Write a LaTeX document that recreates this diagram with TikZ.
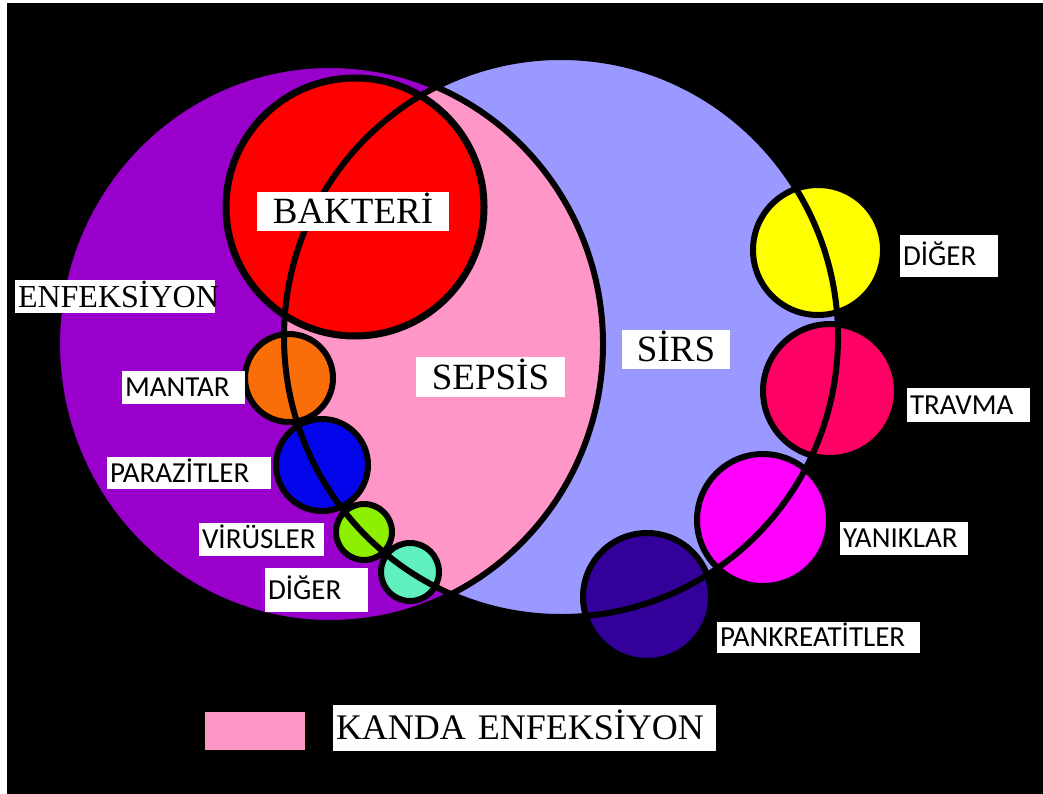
\documentclass[tikz,border=0pt]{standalone}
\usepackage{fontspec}
\setmainfont{Liberation Serif}
\newfontfamily\calibfont{Carlito}
\definecolor{infpurple}{RGB}{153,0,204}
\definecolor{sirsblue}{RGB}{153,153,255}
\definecolor{sepspink}{RGB}{255,150,200}
\definecolor{bactred}{RGB}{255,0,0}
\definecolor{fungorange}{RGB}{250,110,10}
\definecolor{parablue}{RGB}{5,5,235}
\definecolor{virgreen}{RGB}{140,240,0}
\definecolor{othaqua}{RGB}{95,240,190}
\definecolor{othyellow}{RGB}{255,255,0}
\definecolor{traumared}{RGB}{255,0,100}
\definecolor{burnmag}{RGB}{255,0,255}
\definecolor{pankindigo}{RGB}{51,0,153}
\tikzset{
  bubble/.style={circle, draw=black, line width=6pt, inner sep=0pt},
  rim/.style={draw=black, line width=6pt},
  lblbox/.style={fill=white, inner xsep=3pt, inner ysep=0pt, text=black},
  serifbig/.style={font=\fontsize{37}{37}\selectfont, text height=24pt, text depth=0pt},
  serifmid/.style={font=\fontsize{32}{32}\selectfont, text height=21pt, text depth=0pt},
  serifleg/.style={font=\fontsize{36}{36}\selectfont, text height=23.5pt, text depth=0pt},
  sanslbl/.style={font=\calibfont\fontsize{29}{29}\selectfont, text height=18.5pt, text depth=0pt},
}
\begin{document}
\begin{tikzpicture}[x=1pt,y=-1pt]
\useasboundingbox (0,0) rectangle (1043,794);
% frame and background
\fill[white] (0,0) rectangle (1043,794);
\fill[black] (7,3) rectangle (1043,794);
% ellipses
\fill[sirsblue] (561,337) ellipse [x radius=277, y radius=280];
\fill[infpurple] (330,344) ellipse [x radius=273, y radius=279];
\begin{scope}
  \clip (330,344) ellipse [x radius=273, y radius=279];
  \fill[sepspink] (561,337) ellipse [x radius=277, y radius=280];
\end{scope}
% circles (infection side)
\node[bubble, fill=bactred, line width=7pt, minimum size=258pt] (bakteri) at (355,207) {};
\node[bubble, fill=fungorange, minimum size=88pt] (mantar) at (289,378) {};
\node[bubble, fill=parablue, minimum size=92pt] (parazit) at (322,465) {};
\node[bubble, fill=virgreen, minimum size=56pt] (virus) at (364,532) {};
\node[bubble, fill=othaqua, minimum size=58pt] (digerL) at (410,572) {};
% circles (SIRS side)
\node[bubble, fill=othyellow, minimum size=130pt] (digerR) at (818,250) {};
\node[bubble, fill=traumared, minimum size=134pt] (travma) at (830,391) {};
\node[bubble, fill=burnmag, minimum size=132pt] (yanik) at (763,520) {};
\node[bubble, fill=pankindigo, minimum size=128pt] (pankreas) at (647,597) {};
% ellipse rims on top
\draw[rim] (561,337) ellipse [x radius=277, y radius=280];
\draw[rim] (330,344) ellipse [x radius=273, y radius=279];
% legend
\node[fill=sepspink, minimum width=100pt, minimum height=38pt, inner sep=0pt] (legend) at (255,731) {};
% labels (serif)
\node[lblbox, serifmid, text width=194pt, align=left, minimum height=33pt] (lenf) at (115,296.5) {ENFEKSİYON};
\node[lblbox, serifbig, text width=186pt, align=center, minimum height=39pt] (lbak) at (353,211.5) {BAKTERİ};
\node[lblbox, serifbig, text width=143pt, align=center, minimum height=40pt] (lsep) at (490.5,377) {SEPSİS};
\node[lblbox, serifbig, text width=102pt, align=center, minimum height=39pt] (lsirs) at (676,349.5) {SİRS};
\node[lblbox, serifleg, text width=377pt, align=left, minimum height=46pt] (lkanda) at (524.5,728) {KANDA ENFEKSİYON};
% labels (sans)
\node[lblbox, sanslbl, text width=117pt, align=left, minimum height=33pt] (lmantar) at (183.5,387.5) {MANTAR};
\node[lblbox, sanslbl, text width=158pt, align=left, minimum height=32pt] (lparazit) at (189,473) {PARAZİTLER};
\node[lblbox, sanslbl, text width=119pt, align=left, minimum height=33pt] (lvirus) at (261.5,539.5) {VİRÜSLER};
\node[lblbox, sanslbl, text width=97pt, align=left, minimum height=44pt] (ldigerL) at (316.5,590) {DİĞER};
\node[lblbox, sanslbl, text width=92pt, align=left, minimum height=42pt] (ldigerR) at (949,256) {DİĞER};
\node[lblbox, sanslbl, text width=117pt, align=left, minimum height=34pt] (ltravma) at (968.5,405) {TRAVMA};
\node[lblbox, sanslbl, text width=122pt, align=left, minimum height=33pt] (lyanik) at (904,538.5) {YANIKLAR};
\node[lblbox, sanslbl, text width=197pt, align=left, minimum height=31pt] (lpank) at (818.5,637.5) {PANKREATİTLER};
\end{tikzpicture}
\end{document}
